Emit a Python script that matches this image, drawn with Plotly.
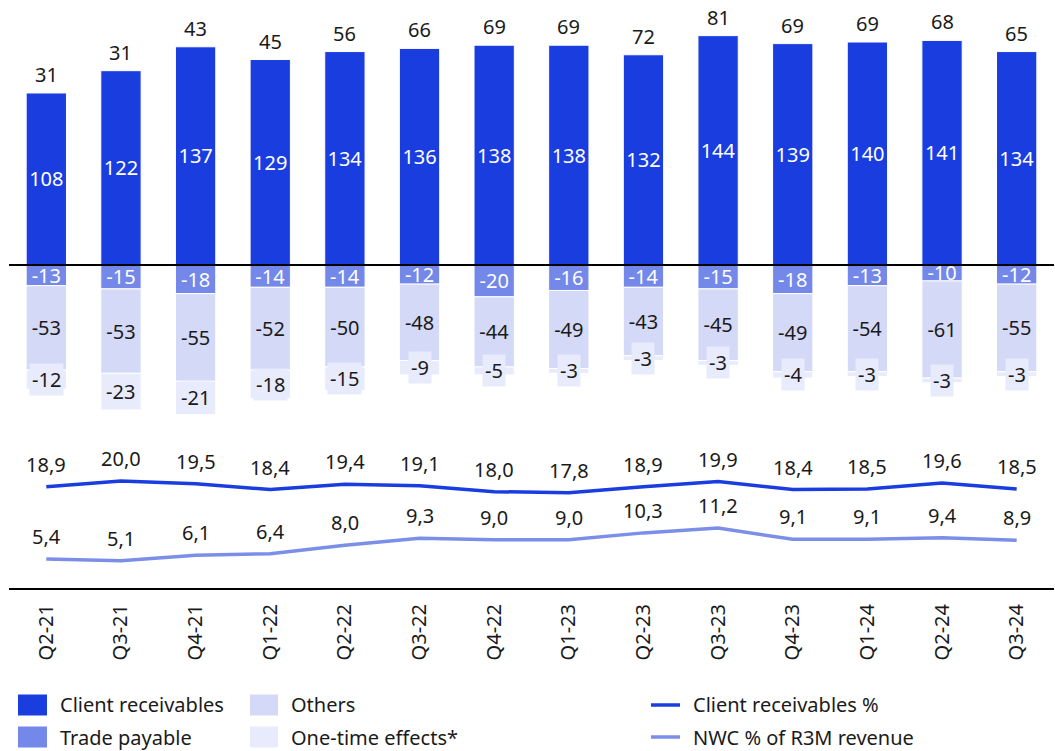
import plotly.graph_objects as go

quarters = ["Q2-21", "Q3-21", "Q4-21", "Q1-22", "Q2-22", "Q3-22", "Q4-22",
            "Q1-23", "Q2-23", "Q3-23", "Q4-23", "Q1-24", "Q2-24", "Q3-24"]
client_receivables = [108, 122, 137, 129, 134, 136, 138, 138, 132, 144, 139, 140, 141, 134]
trade_payable = [-13, -15, -18, -14, -14, -12, -20, -16, -14, -15, -18, -13, -10, -12]
others = [-53, -53, -55, -52, -50, -48, -44, -49, -43, -45, -49, -54, -61, -55]
one_time = [-12, -23, -21, -18, -15, -9, -5, -3, -3, -3, -4, -3, -3, -3]
totals = [31, 31, 43, 45, 56, 66, 69, 69, 72, 81, 69, 69, 68, 65]
client_pct = [18.9, 20.0, 19.5, 18.4, 19.4, 19.1, 18.0, 17.8, 18.9, 19.9, 18.4, 18.5, 19.6, 18.5]
nwc_pct = [5.4, 5.1, 6.1, 6.4, 8.0, 9.3, 9.0, 9.0, 10.3, 11.2, 9.1, 9.1, 9.4, 8.9]

C_CLIENT = "#1a3ddf"
C_TRADE = "#7388e8"
C_OTHERS = "#d3d9f7"
C_ONETIME = "#e8ebfb"
C_LINE2 = "#7b8fe9"
TXT = "#1a1a1a"
FONT = "Noto Sans"
FS = 20

W, H = 1055, 751
ML, MR, MT, MB = 9, 1, 10, 163

def px_x(px):
    return (px - ML) / (W - ML - MR)

def px_y(py):
    return (H - MB - py) / (H - MB - MT)

fig = go.Figure()

bar_common = dict(width=0.54, marker_line=dict(color="white", width=1),
                  textposition="inside", insidetextanchor="middle", textangle=0,
                  hoverinfo="skip")

fig.add_trace(go.Bar(x=quarters, y=client_receivables, name="Client receivables",
                     text=[str(v) for v in client_receivables],
                     marker_color=C_CLIENT, textfont=dict(color="white", size=FS, family=FONT),
                     **bar_common))
fig.add_trace(go.Bar(x=quarters, y=trade_payable, name="Trade payable",
                     text=[str(v) for v in trade_payable],
                     marker_color=C_TRADE, textfont=dict(color="white", size=FS, family=FONT),
                     **bar_common))
fig.add_trace(go.Bar(x=quarters, y=others, name="Others",
                     text=[str(v) for v in others],
                     marker_color=C_OTHERS, textfont=dict(color=TXT, size=FS, family=FONT),
                     **bar_common))
fig.add_trace(go.Bar(x=quarters, y=one_time, name="One-time effects*",
                     marker_color=C_ONETIME, width=0.54,
                     marker_line=dict(color="white", width=1), hoverinfo="skip"))

fig.add_trace(go.Scatter(x=quarters, y=client_pct, name="Client receivables %",
                         mode="lines", line=dict(color=C_CLIENT, width=3.5), yaxis="y2"))
fig.add_trace(go.Scatter(x=quarters, y=nwc_pct, name="NWC % of R3M revenue",
                         mode="lines", line=dict(color=C_LINE2, width=3.5), yaxis="y2"))

annotations = []
# totals above bars
for q, top, t in zip(quarters, client_receivables, totals):
    annotations.append(dict(x=q, y=top, yref="y", text=str(t), showarrow=False,
                            yanchor="bottom", yshift=3,
                            font=dict(size=FS, color=TXT, family=FONT)))
# one-time labels with background box
for q, tp, ot, ov in zip(quarters, trade_payable, others, one_time):
    mid = tp + ot + ov / 2
    annotations.append(dict(x=q, y=mid, yref="y", text=str(ov), showarrow=False,
                            yanchor="middle", bgcolor=C_ONETIME, borderpad=2,
                            font=dict(size=FS, color=TXT, family=FONT)))
# line labels
for series in (client_pct, nwc_pct):
    for q, v in zip(quarters, series):
        annotations.append(dict(x=q, y=v, yref="y2", text=f"{v:.1f}".replace(".", ","),
                                showarrow=False, yanchor="bottom", yshift=7,
                                font=dict(size=FS, color=TXT, family=FONT)))

# manual legend
shapes = []
legend_rows = [705, 737]
bar_leg = [(18, 47, 58, [("Client receivables", C_CLIENT), ("Trade payable", C_TRADE)]),
           (250, 278, 289, [("Others", C_OTHERS), ("One-time effects*", C_ONETIME)])]
for x0, x1, tx, items in bar_leg:
    for (label, col), yc in zip(items, legend_rows):
        shapes.append(dict(type="rect", xref="paper", yref="paper",
                           x0=px_x(x0), x1=px_x(x1), y0=px_y(yc - 10.5), y1=px_y(yc + 10.5),
                           fillcolor=col, line=dict(width=0)))
        annotations.append(dict(xref="paper", yref="paper", x=px_x(tx), y=px_y(yc),
                                xanchor="left", yanchor="middle", text=label, showarrow=False,
                                font=dict(size=FS, color=TXT, family=FONT)))
for (label, col), yc in zip([("Client receivables %", C_CLIENT), ("NWC % of R3M revenue", C_LINE2)],
                            legend_rows):
    shapes.append(dict(type="line", xref="paper", yref="paper",
                       x0=px_x(651), x1=px_x(680), y0=px_y(yc), y1=px_y(yc),
                       line=dict(color=col, width=3.5)))
    annotations.append(dict(xref="paper", yref="paper", x=px_x(691), y=px_y(yc),
                            xanchor="left", yanchor="middle", text=label, showarrow=False,
                            font=dict(size=FS, color=TXT, family=FONT)))

# zero line above bars
shapes.append(dict(type="line", xref="paper", yref="y", x0=0, x1=1, y0=0, y1=0,
                   line=dict(color="black", width=2), layer="above"))

fig.update_layout(
    width=W, height=H, autosize=False,
    margin=dict(l=ML, r=MR, t=MT, b=MB),
    paper_bgcolor="white", plot_bgcolor="white",
    barmode="relative", showlegend=False,
    uniformtext=dict(minsize=FS, mode="show"),
    separators=",.",
    font=dict(family=FONT, size=FS, color=TXT),
    xaxis=dict(type="category", tickangle=-90, showline=True, linecolor="black", linewidth=2,
               ticks="", showgrid=False, tickfont=dict(size=FS, color=TXT, family=FONT),
               ticklabelstandoff=6),
    yaxis=dict(range=[-202.8, 160.1], visible=False, showgrid=False, zeroline=False),
    yaxis2=dict(range=[0, 108], overlaying="y", visible=False, showgrid=False, zeroline=False),
    annotations=annotations, shapes=shapes,
)

fig.write_html("out.html")
